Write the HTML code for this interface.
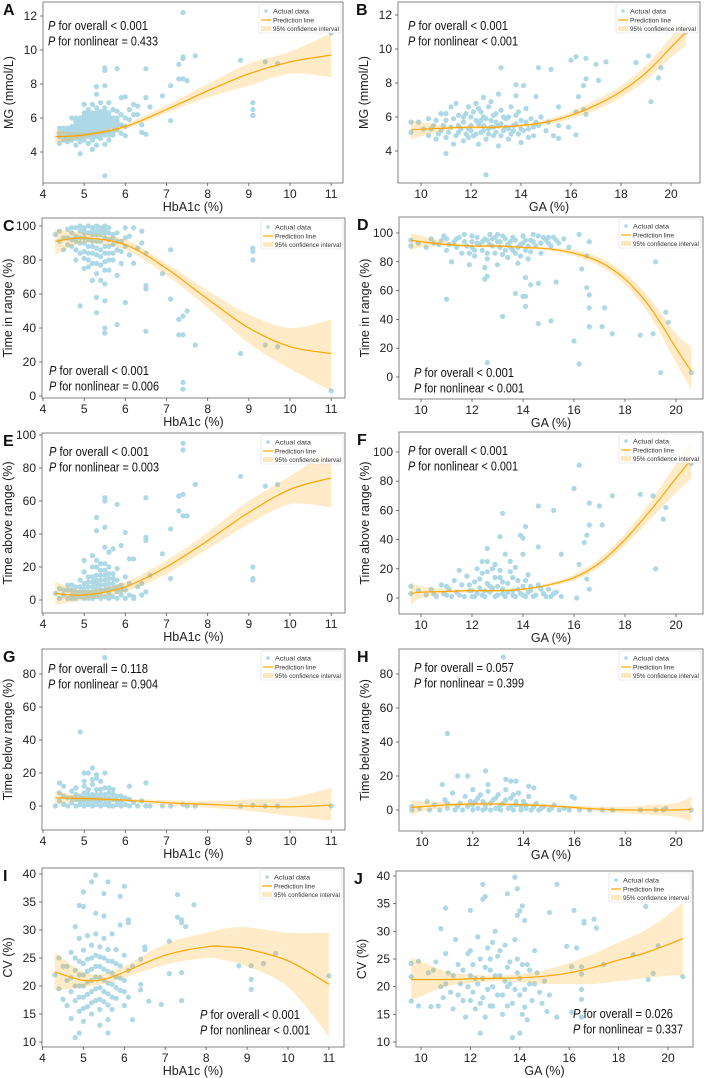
<!DOCTYPE html>
<html><head><meta charset="utf-8"><style>
html,body{margin:0;padding:0;background:#fff;}
svg{display:block;font-family:"Liberation Sans",sans-serif;}
</style></head><body>
<svg id="fig" width="706" height="1078" viewBox="0 0 706 1078" xmlns="http://www.w3.org/2000/svg"></svg>
<script>
// ---------- Data ----------
const ptsA=[[7.4,12.2],[11,11],[5.5,2.6],[4.9,3.9],[7.7,9.65],[7.4,9.5],[7.4,9.6],[7.3,9.15],[8.8,9.4],[9.4,9.3],[9.7,9.2],[9.1,6.9],[9.1,6.5],[9.1,6.15],[7.3,8.3],[7.4,8.3],[7.5,8.2],[7.1,7.9],[7.1,5.85],[6.9,7.3],[6.5,8.9],[6.5,7.2],[6.6,6.65],[6.5,5.05],[6.4,5.15],[6.4,5.6],[5.8,8.9],[5.5,8.8],[5.5,8.95],[5.5,7.9],[5.3,7.85],[6.0,7.25],[5.9,7.2],[6.2,6.8],[6.3,6.7],[6.1,6.5],[6.3,6.2],[6.0,4.95],[5.5,4.45],[5.2,4.15],
[4.4,5.4],[4.4,4.9],[4.4,4.5],[4.5,5.2],[4.5,4.7],[4.6,5.0],[4.6,4.6],[4.7,6.0],[4.7,5.5],[4.7,5.1],[4.7,4.7],[4.8,6.0],[4.8,5.6],[4.8,5.2],[4.8,4.8],[4.8,4.4],[4.9,5.8],[4.9,5.4],[4.9,5.0],[4.9,4.6],[5.0,6.8],[5.0,6.3],[5.0,5.9],[5.0,5.5],[5.0,5.1],[5.0,4.7],[5.1,6.5],[5.1,6.1],[5.1,5.7],[5.1,5.3],[5.1,4.9],[5.1,4.5],[5.2,6.8],[5.2,6.3],[5.2,5.9],[5.2,5.5],[5.2,5.1],[5.2,4.7],[5.3,7.4],[5.3,6.6],[5.3,6.1],[5.3,5.7],[5.3,5.3],[5.3,4.9],[5.3,4.4],[5.4,6.9],[5.4,6.4],[5.4,6.0],[5.4,5.6],[5.4,5.2],[5.4,4.8],[5.5,6.6],[5.5,6.2],[5.5,5.8],[5.5,5.4],[5.5,5.0],[5.6,6.9],[5.6,6.3],[5.6,5.7],[5.6,5.2],[5.6,4.7],[5.7,6.5],[5.7,6.0],[5.7,5.5],[5.7,5.0],[5.8,6.4],[5.8,5.8],[5.8,5.3],[5.9,6.2],[5.9,5.6],[5.9,5.1],[6.0,6.0],[6.0,5.5],[6.1,5.9],[6.2,6.2],[4.6,5.4],[4.8,5.0],[5.0,5.3],[5.2,5.3],[5.4,5.4],[5.6,5.5],[4.5,4.9],[4.9,5.2],[5.1,5.1],[5.3,5.1],[5.5,5.2],[5.7,5.8],
[4.6,5.2],[4.7,4.9],[4.7,5.3],[4.8,5.4],[4.9,4.8],[4.9,5.6],[5.0,4.9],[5.0,5.7],[5.0,6.1],[5.1,5.5],[5.1,5.9],[5.1,6.3],[5.2,4.9],[5.2,5.7],[5.2,6.1],[5.3,5.5],[5.3,5.9],[5.3,6.3],[5.4,5.0],[5.4,5.8],[5.4,6.2],[5.5,5.6],[5.5,6.0],[5.5,6.4],[5.6,5.0],[5.6,5.9],[5.6,6.1],[5.7,5.2],[5.7,5.7],[5.8,5.6],[5.8,6.0],[4.4,5.1],[4.5,5.4],[4.6,4.8],[4.8,5.8],[4.9,6.0]];
const curveAx=[4.3,5,6,7,8,9,10,11];
const curveAy=[4.9,5.0,5.5,6.5,7.6,8.6,9.3,9.7];
const ciAlo=[4.5,4.85,5.35,6.3,7.2,7.9,8.6,8.4];
const ciAhi=[5.3,5.15,5.65,6.75,8.0,9.2,9.9,11.0];

const ptsB=[[12.6,2.6],[11,3.85],[13.2,8.9],[14.7,8.9],[15.2,8.8],[16,9.35],[16.2,9.55],[16.6,9.45],[17,9.1],[17.4,9.25],[18.6,9.2],[19.1,9.6],[19.6,8.9],[19.5,8.3],[19.2,6.9],[20.6,11],[16.6,8.25],[17.1,8.15],[16.5,7.85],[16.3,7.2],[16.2,6.3],[16.2,4.95],[15.9,5.4],[15.5,6.6],[15.5,4.75],[14.6,7.2],[14.1,7.85],[13.8,7.9],[13.8,7.25],[13.1,7.35],[12.5,7.15],[16.5,6.45],[16.6,6.15],
[9.6,5.7],[9.6,5.1],[9.9,5.7],[10.1,5.3],[10.3,5.9],[10.3,4.9],[10.5,5.5],[10.6,4.7],[10.8,6.2],[10.8,5.2],[11,5.8],[11,4.8],[11.2,6.6],[11.2,5.4],[11.3,4.4],[11.5,6.1],[11.5,5.1],[11.7,5.7],[11.7,4.6],[11.9,6.6],[11.9,5.3],[12,6.0],[12.1,4.9],[12.2,6.8],[12.3,5.6],[12.3,4.4],[12.4,6.3],[12.5,5.2],[12.6,5.9],[12.6,4.7],[12.7,6.6],[12.8,5.4],[12.9,6.1],[12.9,4.9],[13,5.7],[13.1,4.3],[13.2,6.4],[13.3,5.2],[13.4,5.9],[13.5,4.7],[13.6,6.6],[13.7,5.5],[13.8,6.1],[13.9,5.0],[14,5.8],[14,4.5],[14.2,6.5],[14.3,5.3],[14.4,5.9],[14.5,4.9],[14.7,5.5],[14.8,6.0],[15,5.2],[15.1,5.7],[15.3,4.9],[15.5,5.5],[12.0,5.5],[11.5,5.5],[12.5,5.5],[13.0,5.1],[13.5,5.3],[11.8,5.0],[12.8,6.9],[11.4,6.8],[10.6,5.8],[11.1,5.1],[11.8,6.2],[12.2,5.0],[12.7,5.0],[13.2,5.6],[13.6,5.0],[14.1,5.2],[14.6,5.7],[12.4,5.8],[13.3,6.0],
[10.9,5.5],[11.3,5.9],[11.4,4.9],[11.6,5.3],[11.9,4.8],[12.0,5.2],[12.1,6.3],[12.2,5.8],[12.4,5.1],[12.5,6.0],[12.7,5.3],[12.8,5.8],[12.9,5.4],[13.0,6.2],[13.1,5.5],[13.2,4.9],[13.4,5.4],[13.5,6.0],[13.7,5.2],[13.8,5.6],[13.9,6.3],[14.0,5.3],[14.2,5.7],[14.3,4.8],[14.5,5.4],[10.4,5.3],[10.7,5.0],[11.0,6.2],[11.7,6.0],[12.3,6.5]];
const curveBx=[9.6,11,12,13,14,15,16,17,18,19,20,20.6];
const curveBy=[5.25,5.35,5.4,5.4,5.5,5.7,6.1,6.7,7.5,8.6,10.1,11.0];
const ciBlo=[4.7,5.2,5.3,5.3,5.4,5.55,5.9,6.4,7.15,8.15,9.5,10.2];
const ciBhi=[5.8,5.5,5.5,5.5,5.6,5.85,6.3,7.0,7.85,9.05,10.7,11.8];

const ptsC=[[11,3],[9.7,29],[9.4,30],[8.8,25],[9.1,87],[9.1,85],[9.1,80],[7.7,30],[7.5,50],[7.4,47],[7.3,45],[7.4,36],[7.3,36],[7.4,8],[7.4,4],[7.1,57],[7.1,86],[6.9,72],[6.5,84],[6.5,65],[6.5,63],[6.5,38],[6.0,55],[5.8,42],[5.5,40],[5.5,37],[5.5,56],[5.3,58],[5.3,49],[4.9,53],
[4.3,95],[4.4,97],[4.4,91],[4.5,86],[4.6,98],[4.6,93],[4.7,88],[4.8,99],[4.8,94],[4.8,80],[4.9,90],[4.9,97],[5.0,85],[5.0,75],[5.0,93],[5.0,99],[5.1,88],[5.1,80],[5.1,96],[5.2,91],[5.2,99],[5.2,84],[5.2,68],[5.3,95],[5.3,87],[5.3,78],[5.3,72],[5.4,99],[5.4,91],[5.4,82],[5.4,68],[5.5,96],[5.5,88],[5.5,79],[5.5,66],[5.6,99],[5.6,92],[5.6,84],[5.6,74],[5.7,89],[5.7,80],[5.8,96],[5.8,86],[5.8,71],[5.9,91],[5.9,78],[6.0,99],[6.0,88],[6.1,83],[6.1,94],[6.2,99],[6.2,78],[6.3,87],[6.4,97],[6.4,90],[4.7,96],[5.0,90],[5.5,93],[4.9,100],[5.1,100],[5.3,100],[5.5,100],[4.6,89],[5.2,95],[5.4,95],[5.6,96],[5.0,96],[4.8,91],[5.7,95],[5.1,92],
[4.5,93],[4.7,92],[4.8,86],[4.9,84],[4.9,93],[5.0,81],[5.1,84],[5.1,76],[5.2,88],[5.2,78],[5.3,91],[5.3,83],[5.4,86],[5.4,77],[5.5,84],[5.5,74],[5.6,88],[5.6,80],[5.7,84],[5.7,93],[5.8,91],[5.9,85],[6.0,93],[5.3,97],[5.5,98],[4.7,99],[5.0,97],[5.2,97],[5.4,97]];
const curveCx=[4.3,5,6,7,8,9,10,11];
const curveCy=[91,93,89,75,57,40,29,25];
const ciClo=[83,90,86,71,52,31,16,3];
const ciChi=[98,96,92,78,62,48,40,45];

const ptsD=[[20.6,3],[19.4,3],[19.6,45],[19.7,38],[19.2,80],[19.1,30],[18.6,29],[17.5,30],[17.1,35],[17.2,48],[16.6,35],[16.6,48],[16.6,57],[16.5,62],[16.5,84],[16.6,94],[16.3,75],[16.2,99],[16.2,9],[16.0,25],[15.1,39],[15.3,66],[14.6,37],[14.1,49],[14.1,56],[14.0,56],[13.7,58],[13.2,42],[12.6,10],[11.0,54],[12.5,68],[12.6,70],[14.1,69],[14.6,65],[14.3,64],
[9.6,95],[9.6,91],[9.9,93],[10.2,90],[10.4,96],[10.7,92],[10.9,98],[11,88],[11.2,80],[11.3,94],[11.5,97],[11.6,86],[11.8,91],[11.9,78],[12,98],[12.1,84],[12.2,93],[12.4,88],[12.5,96],[12.5,76],[12.6,82],[12.7,99],[12.8,91],[12.9,86],[13,94],[13,78],[13.2,98],[13.3,88],[13.4,83],[13.5,94],[13.6,97],[13.7,86],[13.8,79],[13.9,92],[14,98],[14.1,88],[14.2,82],[14.3,95],[14.5,91],[14.6,98],[14.7,86],[14.9,95],[15.1,91],[15.2,97],[15.4,93],[15.6,96],[15.8,90],[11.4,90],[12.3,92],[13.1,90],[11.0,96],[12.0,94],[13.0,99],[14.0,93],[12.6,95],[13.5,90],[11.7,99],[12.9,97],[14.4,99],[15.0,97],
[10.5,93],[10.8,95],[11.1,92],[11.4,96],[11.7,94],[12.0,90],[12.2,97],[12.4,94],[12.7,92],[12.8,96],[13.1,94],[13.3,96],[13.4,92],[13.7,95],[13.8,90],[14.1,95],[14.2,91],[14.4,94],[14.7,93],[14.8,97],[15.0,93],[15.3,95],[12.1,88],[12.6,86],[13.2,85],[13.6,88],[14.3,87],[11.9,86],[13.9,84]];
const curveDx=[9.6,10,11,12,13,14,15,16,17,18,19,20,20.6];
const curveDy=[95,94,92,91,91,90,89,86,80,68,48,20,4];
const ciDlo=[88,90,91,90,90,89,88,84,77,64,42,10,-9];
const ciDhi=[100,98,94,92,92,91,90,88,83,72,54,30,21];

const ptsE=[[7.4,95],[7.4,91],[8.8,75],[9.4,69],[9.7,70],[7.7,70],[7.3,63],[7.4,64],[7.3,54],[7.4,51],[7.5,51],[7.1,43],[7.1,13],[6.9,28],[9.1,20],[9.1,13],[9.1,12],[6.5,62],[6.5,38],[6.5,36],[5.5,62],[5.5,60],[5.8,58],[5.3,50],[5.3,42],[5.5,44],[6.0,41],[5.9,33],[5.7,31],[5.6,29],[6.1,25],[6.2,25],[6.6,15],[6.4,10],[6.5,5],[6.4,3],[6.2,1],[5.0,24],
[4.3,4],[4.4,1],[4.4,7],[4.5,3],[4.6,1],[4.6,6],[4.7,3],[4.7,9],[4.8,1],[4.8,5],[4.9,2],[4.9,8],[4.9,12],[5.0,1],[5.0,5],[5.0,10],[5.0,17],[5.1,3],[5.1,8],[5.1,14],[5.2,1],[5.2,5],[5.2,11],[5.2,20],[5.3,2],[5.3,7],[5.3,15],[5.3,24],[5.4,1],[5.4,4],[5.4,9],[5.4,18],[5.5,2],[5.5,6],[5.5,12],[5.5,22],[5.6,1],[5.6,4],[5.6,10],[5.6,16],[5.7,2],[5.7,7],[5.7,13],[5.8,1],[5.8,5],[5.8,19],[5.9,3],[5.9,9],[6.0,1],[6.0,6],[6.0,14],[6.1,3],[6.1,10],[6.2,2],[6.3,8],[5.2,27],[5.5,32],[4.8,3],[5.0,3],[5.2,3],[5.4,6],[5.6,7],[4.7,6],[5.1,5],[5.3,4],[5.5,9],
[4.6,9],[4.8,8],[4.9,5],[5.0,7],[5.1,11],[5.1,1],[5.2,8],[5.2,14],[5.3,10],[5.3,12],[5.4,12],[5.4,15],[5.5,15],[5.5,18],[5.6,13],[5.6,20],[5.7,10],[5.7,16],[5.8,8],[5.8,12],[5.9,6],[4.5,6],[4.7,1],[5.3,20],[5.4,22]];
const curveEx=[4.3,5,6,7,8,9,10,11];
const curveEy=[4,3,8,20,36,53,67,74];
const ciElo=[-3,0,5,16,31,46,58,56];
const ciEhi=[11,6,11,24,41,60,75,92];

const ptsF=[[16.2,91],[16,75],[16.6,65],[17,63],[17.5,70],[18.6,71],[19.1,70],[19.5,54],[19.6,62],[19.2,20],[20.6,92],[16.6,50],[17.1,50],[16.5,43],[16.4,38],[16.2,23],[16.1,0],[16.5,13],[16.6,6],[15.5,30],[15.2,60],[14.6,63],[14.6,35],[14.1,49],[13.9,43],[14.0,41],[13.2,58],[13.1,42],[12.6,34],[13.3,30],[14,30],[12.4,25],[12.6,25],
[9.6,8],[9.6,3],[9.9,5],[10.2,2],[10.4,6],[10.6,1],[10.8,9],[10.9,3],[11.1,6],[11.2,1],[11.3,12],[11.4,4],[11.6,9],[11.7,1],[11.8,15],[11.9,5],[12,1],[12.1,11],[12.2,3],[12.3,7],[12.4,17],[12.5,1],[12.6,10],[12.7,4],[12.8,20],[12.9,1],[13,8],[13.1,14],[13.2,3],[13.3,1],[13.4,10],[13.5,18],[13.6,5],[13.7,1],[13.8,12],[13.9,3],[14,8],[14.1,1],[14.2,16],[14.3,5],[14.4,1],[14.6,9],[14.8,3],[15,6],[15.1,1],[15.3,4],[15.5,1],[11.5,19],[12.9,23],[13.5,25],[12.0,5],[12.4,2],[12.8,7],[13.2,6],[13.6,2],[14.2,4],[11.0,2],[10.5,3],
[11.0,8],[11.5,2],[11.9,9],[12.1,1],[12.3,13],[12.5,5],[12.7,8],[12.9,14],[13.0,2],[13.2,11],[13.4,4],[13.6,14],[13.8,6],[14.0,2],[14.1,12],[14.3,8],[14.5,2],[14.7,6],[14.9,1],[15.2,3],[12.6,18],[13.1,19],[13.7,21],[12.2,20]];
const curveFx=[9.6,10,11,12,13,14,15,16,17,18,19,20,20.6];
const curveFy=[3,4,4.5,5,5,6,9,14,24,40,60,82,95];
const ciFlo=[-5,0,3,4,4,5,8,12,21,36,54,72,82];
const ciFhi=[11,8,6,6,6,7,10,16,27,44,66,92,108];

const ptsG=[[5.5,90],[4.9,45],[5.2,23],[5.1,20],[5.0,20],[5.3,19],[5.5,20],[4.4,14],[6.5,14],[6.1,12],[5.3,17],[5.4,15],[9.1,0.5],[9.4,0],[9.7,0],[8.8,0],[11,0],[7.7,0],[7.4,1],[7.5,0],[7.1,0],[6.9,0],
[4.3,0],[4.4,3],[4.4,8],[4.5,1],[4.5,12],[4.6,5],[4.6,0],[4.7,2],[4.7,9],[4.8,0],[4.8,4],[4.8,11],[4.9,1],[4.9,6],[5.0,0],[5.0,3],[5.0,8],[5.0,12],[5.1,1],[5.1,5],[5.1,10],[5.2,0],[5.2,3],[5.2,7],[5.2,13],[5.3,1],[5.3,5],[5.3,10],[5.4,0],[5.4,3],[5.4,7],[5.5,1],[5.5,4],[5.5,11],[5.6,0],[5.6,2],[5.6,8],[5.7,0],[5.7,4],[5.7,10],[5.8,1],[5.8,6],[5.9,0],[5.9,3],[6.0,1],[6.0,5],[6.1,0],[6.2,2],[6.3,0],[6.4,3],[6.5,0],[6.6,0],
[4.5,6],[4.7,5],[4.8,7],[4.9,3],[5.0,5],[5.1,3],[5.1,7],[5.2,5],[5.3,3],[5.3,7],[5.4,5],[5.5,7],[5.6,5],[5.7,7],[5.8,3],[5.9,6],[6.1,4],[5.4,10],[5.6,11],[5.0,15],[5.2,16]];
const curveGx=[4.3,5,6,7,8,9,10,11];
const curveGy=[5,4.5,3.5,2,1,0,-0.5,0.5];
const ciGlo=[1,3,2.5,0.5,-1,-3,-6,-9];
const ciGhi=[9,6,4.5,3.5,3,4,5,11];

const ptsH=[[13.2,90],[11,45],[12.5,23],[11.4,20],[11.8,20],[13.3,18],[13.5,17],[13.7,17],[12.6,15],[14.2,14],[14.4,13],[10.8,15],[15.9,8],[16,7],[19.6,1],[19.5,0],[19.2,0],[18.6,0],[20.6,0],[17.5,0],[17.1,0],[16.6,0],
[9.6,2],[9.6,0],[9.9,1],[10.2,5],[10.3,0],[10.5,3],[10.7,0],[10.9,6],[11,1],[11.2,10],[11.3,0],[11.5,4],[11.6,0],[11.7,8],[11.8,2],[12,0],[12,12],[12.1,5],[12.2,1],[12.3,9],[12.4,0],[12.5,3],[12.6,11],[12.7,0],[12.8,6],[12.9,1],[13,9],[13.1,0],[13.2,4],[13.3,12],[13.4,1],[13.5,7],[13.6,0],[13.7,3],[13.8,10],[13.9,0],[14,5],[14.1,1],[14.2,8],[14.3,0],[14.5,4],[14.6,0],[14.8,2],[15,0],[15.2,3],[15.4,0],[15.6,1],[15.8,0],[16.2,0],
[11.0,4],[11.4,2],[11.9,5],[12.2,7],[12.5,1],[12.7,4],[12.9,7],[13.1,3],[13.3,6],[13.5,2],[13.7,5],[13.9,2],[14.1,3],[14.4,2],[12.0,3],[12.4,5],[13.0,1],[13.6,9],[14.7,1],[15.1,1]];
const curveHx=[9.6,10,11,12,13,14,15,16,17,18,19,20,20.6];
const curveHy=[1.5,2,3,3.5,3.5,3,2.5,1.5,0.5,0,0,0,0.5];
const ciHlo=[-3,-1,1.5,2.5,2.5,2,1.5,0.5,-1,-2,-3,-4,-7];
const ciHhi=[6,5,4.5,4.5,4.5,4,3.5,2.5,2,2,3,4,8];

const ptsI=[[11,21.8],[9.7,25.8],[9.4,24],[9.1,23.6],[9.1,21.2],[9.1,19.4],[8.8,23.6],[7.7,34.5],[7.3,36.3],[7.3,32.3],[7.4,31.8],[7.4,31.3],[7.5,30.6],[7.1,28],[7.1,22.2],[7.4,22.4],[7.4,17.4],[6.9,16.7],[6.6,17.3],[6.5,27],[6.5,26.5],[6.4,24.8],[6.4,20.3],[6.4,19.3],[6.2,14],[6.0,37.8],[6.1,31.8],[6.1,31.3],[5.9,30.9],[5.9,36],[5.6,38.6],[5.5,36.5],[5.3,39.8],[5.2,38.6],[5.0,36.8],[4.9,34.4],[5.0,34.2],[4.8,30.6],[4.8,10.8],[4.9,11.6],[5.6,11.6],[5.4,13],[5.6,14],
[4.3,22],[4.4,25],[4.4,19.5],[4.5,17.6],[4.5,23.5],[4.6,21],[4.6,16.5],[4.7,26],[4.7,19],[4.7,14.2],[4.8,22.8],[4.8,17.4],[4.9,28.5],[4.9,24.4],[4.9,20],[4.9,15.5],[5.0,26.4],[5.0,22],[5.0,18],[5.0,13.7],[5.1,29],[5.1,24.8],[5.1,20.7],[5.1,16.3],[5.2,27.3],[5.2,23],[5.2,19],[5.2,15],[5.3,33],[5.3,29.3],[5.3,25.5],[5.3,21.6],[5.3,17.4],[5.4,27],[5.4,23.5],[5.4,19.7],[5.4,15.8],[5.5,32.5],[5.5,28.5],[5.5,25],[5.5,21],[5.5,17.2],[5.6,26.5],[5.6,22.6],[5.6,18.6],[5.7,29.3],[5.7,24.4],[5.7,20.3],[5.7,15.8],[5.8,26.5],[5.8,21.6],[5.8,17.8],[5.9,23.6],[5.9,19.2],[6.0,25.5],[6.0,21],[6.0,16.5],[6.1,22.8],[6.1,18],[6.2,23.5],
[4.6,23.5],[4.7,21.5],[4.8,20],[4.8,25],[4.9,22],[4.9,18],[5.0,24],[5.0,20],[5.0,16],[5.1,22.6],[5.1,18.5],[5.2,25],[5.2,21],[5.2,17],[5.3,23.5],[5.3,19.5],[5.4,21.5],[5.4,25.2],[5.4,17.6],[5.5,23],[5.5,19],[5.6,24.5],[5.6,20.5],[5.6,16.6],[5.7,22.3],[5.7,18],[5.8,24],[5.8,19.7],[5.9,21.4],[6.0,19]];
const curveIx=[4.3,5,5.5,6,7,8,8.5,9,10,11];
const curveIy=[22.5,21,21.2,22.5,25.5,27,27,26.6,24.5,20.3];
const ciIlo=[19.2,19.8,20.4,21.5,23.8,25,24.5,23.5,19.8,11];
const ciIhi=[26,22.5,22.2,23.5,27.5,29.5,30.3,30.5,29.5,29.5];

const ptsJ=[[13.8,39.8],[13.9,37.7],[15.5,38.5],[13.5,36.8],[12.5,38.5],[12.6,36.3],[12.5,35.8],[11,34.2],[12,33.8],[14.1,34.6],[14,33.7],[13.9,32.9],[16.2,33.8],[19.1,34.5],[15.2,33.4],[16.6,31.8],[16.6,31.5],[17,32.2],[17.1,30.6],[10.8,30.5],[14.2,32],[16.3,27],[15.9,27.3],[16.1,23.6],[16.5,23.6],[16.5,22.3],[16.5,19.5],[16.5,17.7],[16.1,15.4],[16.5,14.5],[15.5,14.5],[17.4,24],[18.6,25.8],[19.6,27.4],[19.2,21.3],[19.4,22.4],[20.6,21.8],[13.7,10.8],[12.4,11.6],[14,11.6],[9.6,24.2],[9.6,21.8],[9.6,17.4],[9.9,16.5],[9.9,24.6],[10.4,16.4],[10.7,16.5],[14.3,14],[14.2,16.3],[14.6,26.5],
[10.5,23],[10.8,20],[10.9,18],[11,26],[11.1,22.5],[11.2,19],[11.3,16],[11.4,28.5],[11.5,24],[11.6,20.5],[11.7,17.5],[11.8,14.5],[11.9,26],[12,22],[12.1,19],[12.2,16],[12.3,29],[12.4,25],[12.5,21.5],[12.5,18],[12.6,14.5],[12.7,27],[12.8,23],[12.9,20],[12.9,16.5],[13,30],[13.1,25.5],[13.2,22],[13.3,18.5],[13.3,15],[13.4,27.5],[13.5,23.5],[13.6,20.5],[13.7,17],[13.8,28.5],[13.9,25],[14,21.5],[14,18.5],[14.1,15],[14.3,24],[14.4,20.5],[14.5,17.5],[14.7,22.5],[14.8,19],[15,21],[15.1,15.5],[15.2,18.5],[12.2,21.5],[13.5,20],[12.8,25],
[10.3,22.5],[10.6,24.5],[11.0,20.5],[11.3,22],[11.5,18.5],[11.7,23],[11.9,20],[12.0,17.5],[12.1,24],[12.3,20.5],[12.4,17],[12.6,23.5],[12.7,19.5],[12.8,16.5],[13.0,22],[13.1,18.5],[13.2,26.5],[13.4,21],[13.5,16.5],[13.6,24.5],[13.8,19.5],[13.9,22.5],[14.1,24],[14.2,19.5],[14.4,23],[14.6,20.5],[14.9,17],[12.0,26.5],[12.9,28]];
const curveJx=[9.6,11,12,13,14,15,16,17,18,19,20,20.6];
const curveJy=[21.3,21.3,21.4,21.5,21.6,21.9,22.5,23.5,24.8,26,27.6,28.7];
const ciJlo=[17.5,20,20.6,21,20.8,20.5,20.5,20.5,21,21.5,22,22];
const ciJhi=[25.3,22.8,22.2,22,22.3,23,24.3,26,28,30,33,35.2];

const hbTicks=[4,5,6,7,8,9,10,11];
const gaTicks=[10,12,14,16,18,20];
const mgTicks=[4,6,8,10,12];
const pctTicks=[0,20,40,60,80,100];
const tbrTicks=[0,20,40,60,80];
const cvTicks=[10,15,20,25,30,35,40];

// ---------- Layout ----------
const panels=[
 {id:'a',letter:'A',f:[43,2,343,183],xm:[4,43,10,290],ym:[12,16,4,152],xt:hbTicks,yt:mgTicks,xl:'HbA1c (%)',yl:'MG (mmol/L)',pts:ptsA,cx:curveAx,cy:curveAy,lo:ciAlo,hi:ciAhi,p:[48,30,'P for overall < 0.001','P for nonlinear = 0.433']},
 {id:'b',letter:'B',f:[398,2,700,183],xm:[10,421,20,671],ym:[12,15,4,151],xt:gaTicks,yt:mgTicks,xl:'GA (%)',yl:'MG (mmol/L)',pts:ptsB,cx:curveBx,cy:curveBy,lo:ciBlo,hi:ciBhi,p:[408,30,'P for overall < 0.001','P for nonlinear < 0.001']},
 {id:'c',letter:'C',f:[42,218,345,398],xm:[4,43,10,290],ym:[100,226,0,396],xt:hbTicks,yt:pctTicks,xl:'HbA1c (%)',yl:'Time in range (%)',pts:ptsC,cx:curveCx,cy:curveCy,lo:ciClo,hi:ciChi,p:[49,375,'P for overall < 0.001','P for nonlinear = 0.006']},
 {id:'d',letter:'D',f:[399,217,703,399],xm:[10,421,20,676],ym:[100,233,0,377],xt:gaTicks,yt:pctTicks,xl:'GA (%)',yl:'Time in range (%)',pts:ptsD,cx:curveDx,cy:curveDy,lo:ciDlo,hi:ciDhi,p:[414,377,'P for overall < 0.001','P for nonlinear < 0.001']},
 {id:'e',letter:'E',f:[42,433,345,613],xm:[4,43,10,290],ym:[100,435,0,600],xt:hbTicks,yt:pctTicks,xl:'HbA1c (%)',yl:'Time above range (%)',pts:ptsE,cx:curveEx,cy:curveEy,lo:ciElo,hi:ciEhi,p:[49,456,'P for overall < 0.001','P for nonlinear = 0.003']},
 {id:'f',letter:'F',f:[399,432,703,614],xm:[10,421,20,676],ym:[100,452,0,598],xt:gaTicks,yt:pctTicks,xl:'GA (%)',yl:'Time above range (%)',pts:ptsF,cx:curveFx,cy:curveFy,lo:ciFlo,hi:ciFhi,p:[408,455,'P for overall < 0.001','P for nonlinear < 0.001']},
 {id:'g',letter:'G',f:[42,649,345,830],xm:[4,43,10,290],ym:[80,674,0,806],xt:hbTicks,yt:tbrTicks,xl:'HbA1c (%)',yl:'Time below range (%)',pts:ptsG,cx:curveGx,cy:curveGy,lo:ciGlo,hi:ciGhi,p:[48,673,'P for overall = 0.118','P for nonlinear = 0.904']},
 {id:'h',letter:'H',f:[399,649,703,831],xm:[10,422,20,676],ym:[80,674,0,810],xt:gaTicks,yt:tbrTicks,xl:'GA (%)',yl:'Time below range (%)',pts:ptsH,cx:curveHx,cy:curveHy,lo:ciHlo,hi:ciHhi,p:[414,672,'P for overall = 0.057','P for nonlinear = 0.399']},
 {id:'i',letter:'I',f:[42,868,344,1047],xm:[4,42.5,10,288],ym:[40,874,10,1042],xt:hbTicks,yt:cvTicks,xl:'HbA1c (%)',yl:'CV (%)',pts:ptsI,cx:curveIx,cy:curveIy,lo:ciIlo,hi:ciIhi,p:[200,1019,'P for overall < 0.001','P for nonlinear < 0.001']},
 {id:'j',letter:'J',f:[396,871,693,1047],xm:[10,421,20,668],ym:[40,876,10,1042],xt:gaTicks,yt:cvTicks,xl:'GA (%)',yl:'CV (%)',pts:ptsJ,cx:curveJx,cy:curveJy,lo:ciJlo,hi:ciJhi,p:[573,1018,'P for overall = 0.026','P for nonlinear = 0.337']}
];

const NS='http://www.w3.org/2000/svg';
const svg=document.getElementById('fig');
function mk(tag,attrs,parent){const e=document.createElementNS(NS,tag);for(const k in attrs)e.setAttribute(k,attrs[k]);(parent||svg).appendChild(e);return e;}
function txt(s,attrs,parent){const e=mk('text',attrs,parent);e.textContent=s;return e;}
// smooth path through points (Catmull-Rom -> cubic Bezier)
function smooth(P,start){
 let d=(start?'M':'L')+P[0][0].toFixed(1)+','+P[0][1].toFixed(1);
 for(let i=0;i<P.length-1;i++){
  const p0=P[Math.max(0,i-1)],p1=P[i],p2=P[i+1],p3=P[Math.min(P.length-1,i+2)];
  const c1=[p1[0]+(p2[0]-p0[0])/6,p1[1]+(p2[1]-p0[1])/6];
  const c2=[p2[0]-(p3[0]-p1[0])/6,p2[1]-(p3[1]-p1[1])/6];
  d+='C'+c1[0].toFixed(1)+','+c1[1].toFixed(1)+' '+c2[0].toFixed(1)+','+c2[1].toFixed(1)+' '+p2[0].toFixed(1)+','+p2[1].toFixed(1);
 }
 return d;
}

panels.forEach(P=>{
 const [x0,y0,x1,y1]=P.f;
 const sx=v=>P.xm[1]+(v-P.xm[0])*(P.xm[3]-P.xm[1])/(P.xm[2]-P.xm[0]);
 const sy=v=>P.ym[1]+(v-P.ym[0])*(P.ym[3]-P.ym[1])/(P.ym[2]-P.ym[0]);
 const g=mk('g',{});
 
 
 const clipId='clip'+P.id;
 const cp=mk('clipPath',{id:clipId},g);mk('rect',{x:x0,y:y0,width:x1-x0,height:y1-y0},cp);
 const pg=mk('g',{'clip-path':'url(#'+clipId+')'},g);
 
 
 P.pts.forEach(d=>{
  const c=mk('circle',{cx:sx(d[0]).toFixed(1),cy:sy(d[1]).toFixed(1),r:2.6,fill:'#add8e6'},pg);
  
  
 });
 const hiP=P.cx.map((x,i)=>[sx(x),sy(P.hi[i])]);
 const loP=P.cx.map((x,i)=>[sx(x),sy(P.lo[i])]).reverse();
 const band=mk('path',{d:smooth(hiP,true)+smooth(loP,false)+'Z',fill:'rgba(255,165,0,0.22)',stroke:'none','clip-path':'url(#'+clipId+')'},g);
 
 
 const lineP=P.cx.map((x,i)=>[sx(x),sy(P.cy[i])]);
 const line=mk('path',{d:smooth(lineP,true),fill:'none',stroke:'#ffa500','stroke-width':1.2},g);
 
 
 const fr=mk('rect',{x:x0,y:y0,width:x1-x0,height:y1-y0,fill:'none',stroke:'#777','stroke-width':0.9},g);
 
 
 P.xt.forEach(t=>{const X=sx(t);mk('line',{x1:X,x2:X,y1:y1,y2:y1+3,stroke:'#555','stroke-width':0.8},g);
  const tl=txt(String(t),{x:X,y:y1+15,'font-size':12,'text-anchor':'middle',fill:'#222'},g);
  
  });
 P.yt.forEach(t=>{const Y=sy(t);mk('line',{x1:x0-3,x2:x0,y1:Y,y2:Y,stroke:'#555','stroke-width':0.8},g);
  const tl=txt(String(t),{x:x0-6,y:Y+4,'font-size':12,'text-anchor':'end',fill:'#222'},g);
  
  });
 const xl=txt(P.xl,{x:(x0+x1)/2,y:y1+28,'font-size':12.5,'text-anchor':'middle',fill:'#222'},g);
 
 
 const ycx=x0-30,ycy=(y0+y1)/2;
 const yl=txt(P.yl,{x:ycx,y:ycy,'font-size':12.5,'text-anchor':'middle',fill:'#222',transform:'rotate(-90 '+ycx+' '+ycy+')'},g);
 
 
 const lt=txt(P.letter,{x:x0<100?3:x0-42,y:y0+13,'font-size':16,'font-weight':'bold',fill:'#111'},g);
 
 
 [P.p[2],P.p[3]].forEach((s,i)=>{
  const t=mk('text',{x:P.p[0],y:P.p[1]+i*15.5,'font-size':12.5,fill:'#111',textLength:s.indexOf('nonlinear')>0?110:100,lengthAdjust:'spacingAndGlyphs'},g);
  const it=mk('tspan',{'font-style':'italic'},t);it.textContent='P';
  const rest=mk('tspan',{},t);rest.textContent=s.slice(1);
  
  
 });
 const lx=x1-84,ly=y0+2;
 const lg=mk('g',{},g);
 
 
 mk('rect',{x:lx,y:ly,width:82,height:29,fill:'rgba(255,255,255,0.85)',stroke:'#ddd','stroke-width':0.6,rx:1.5},lg);
 mk('circle',{cx:lx+7,cy:ly+7,r:1.8,fill:'#add8e6'},lg);
 mk('line',{x1:lx+2,x2:lx+12,y1:ly+16,y2:ly+16,stroke:'#ffa500','stroke-width':1.2},lg);
 mk('rect',{x:lx+2,y:ly+22,width:10,height:5,fill:'rgba(255,165,0,0.25)'},lg);
 const e1=txt('Actual data',{x:lx+14,y:ly+9.5,'font-size':6.8,fill:'#333',textLength:36,lengthAdjust:'spacingAndGlyphs'},lg);
 
 
 const e2=txt('Prediction line',{x:lx+14,y:ly+18.5,'font-size':6.8,fill:'#333',textLength:41,lengthAdjust:'spacingAndGlyphs'},lg);
 
 
 const e3=txt('95% confidence interval',{x:lx+14,y:ly+27,'font-size':6.8,fill:'#333',textLength:66,lengthAdjust:'spacingAndGlyphs'},lg);
 
 
});
</script>
</body></html>
